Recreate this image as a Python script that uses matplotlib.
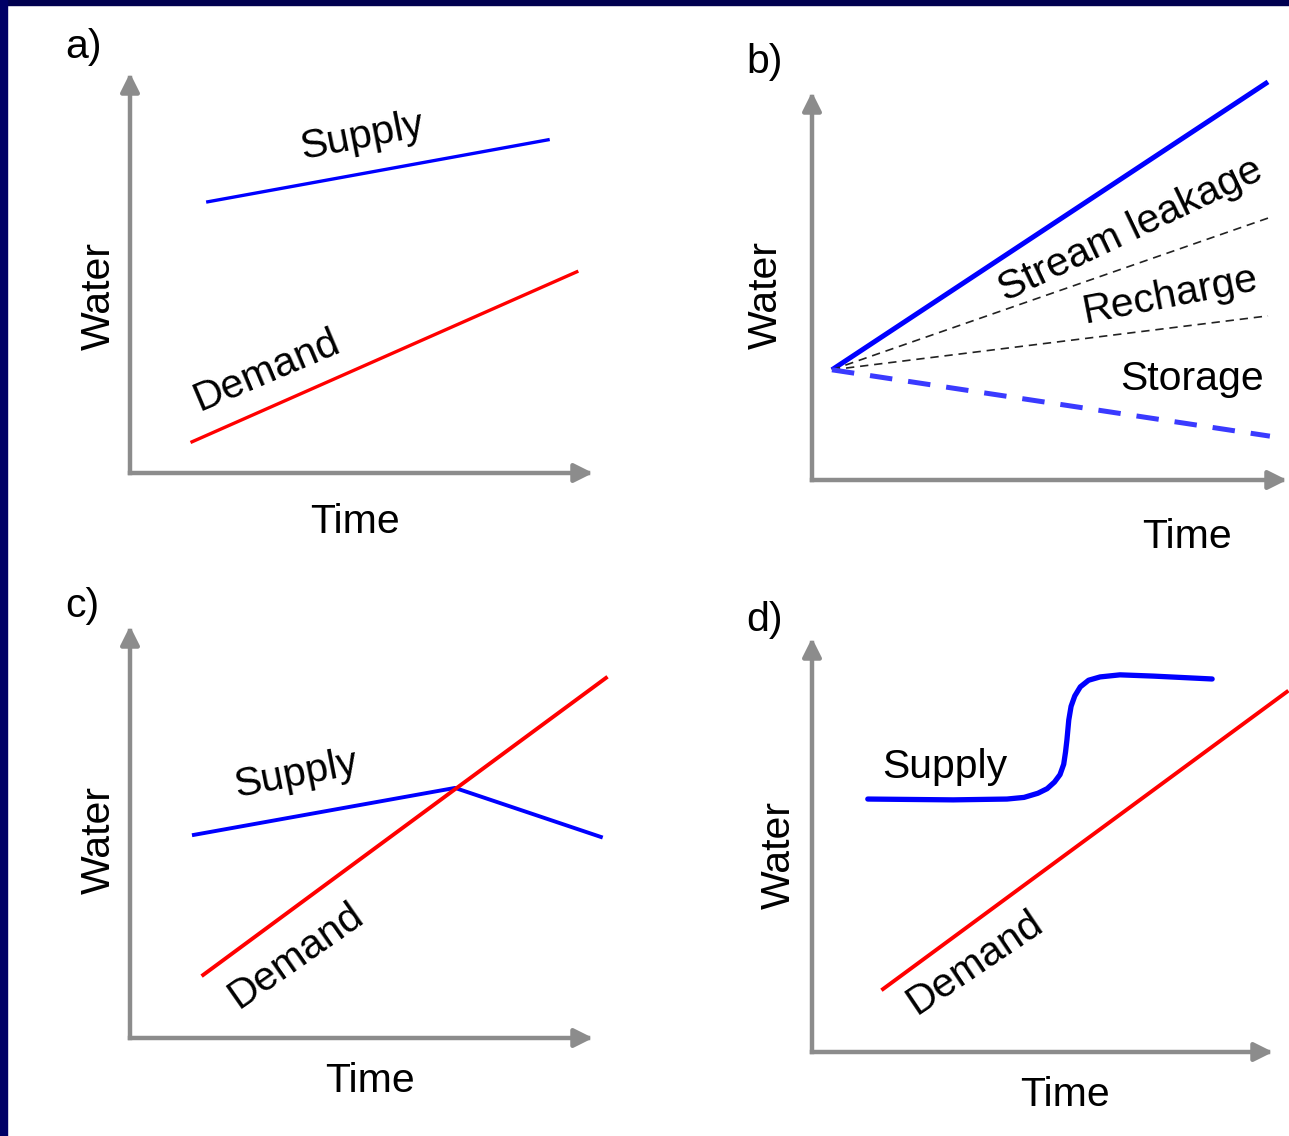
import matplotlib.pyplot as plt
from matplotlib.patches import Rectangle

W_PX, H_PX = 1289, 1136

# ---- data (time / water in arbitrary 0-10 units) ----
# a) supply stays above demand
a_supply_t = [1.68, 9.03]
a_supply_w = [6.78, 8.33]
a_demand_t = [1.34, 9.65]
a_demand_w = [0.78, 5.03]

# b) partition of pumping
b_pump_t = [0.42, 9.60]
b_pump_w = [2.84, 10.26]
b_leak_t = [0.42, 9.60]
b_leak_w = [2.84, 6.75]
b_rech_t = [0.42, 9.60]
b_rech_w = [2.84, 4.23]
b_stor_t = [0.42, 9.64]
b_stor_w = [2.84, 1.13]

# c) demand overtakes supply
c_supply_t = [1.38, 7.02, 10.17]
c_supply_w = [4.93, 6.07, 4.88]
c_demand_t = [1.58, 10.28]
c_demand_w = [1.53, 8.74]

# d) supply step increase
d_supply_t = [1.21, 3.06, 4.23, 4.60, 4.90, 5.10, 5.26, 5.38, 5.46, 5.50, 5.53, 5.57,
              5.62, 5.70, 5.82, 6.00, 6.25, 6.68, 7.40, 8.68]
d_supply_w = [6.11, 6.09, 6.11, 6.15, 6.25, 6.36, 6.52, 6.70, 6.95, 7.25, 7.54, 8.02,
              8.35, 8.60, 8.82, 8.98, 9.06, 9.11, 9.08, 9.01]
d_demand_t = [1.54, 10.30]
d_demand_w = [1.52, 8.70]

GREY = '#8c8c8c'
BLUE = '#0000ff'
RED = '#ff0000'
FONT = 'Liberation Sans'
FS = 29.5

plt.rcParams['font.family'] = [FONT, 'DejaVu Sans']

fig = plt.figure(figsize=(W_PX / 100, H_PX / 100), dpi=100)
fig.patch.set_facecolor('white')

# dark frame on top and left
fig.patches.append(Rectangle((0, 1 - 5 / H_PX), 1, 5 / H_PX, transform=fig.transFigure,
                             color='#000050', zorder=10))
fig.patches.append(Rectangle((0, 0), 7 / W_PX, 1, transform=fig.transFigure,
                             color='#000066', zorder=10))


def px(x, y):
    return x / W_PX, 1 - y / H_PX


def panel(x0, y0, xt, yt):
    ax = fig.add_axes([x0 / W_PX, 1 - y0 / H_PX, (xt - x0) / W_PX, (y0 - yt) / H_PX])
    ax.set_xlim(0, 10)
    ax.set_ylim(0, 10)
    ax.axis('off')
    arrow = dict(arrowstyle='-|>,head_length=0.8,head_width=0.4', mutation_scale=14,
                 lw=3.2, color=GREY, shrinkA=0, shrinkB=0, capstyle='projecting')
    ax.annotate('', xy=(1, 0), xytext=(0, 0), xycoords='axes fraction',
                textcoords='axes fraction', arrowprops=arrow)
    ax.annotate('', xy=(0, 1), xytext=(0, 0), xycoords='axes fraction',
                textcoords='axes fraction', arrowprops=arrow)
    return ax


def label(x, y, s, rot=0, va='center', ha='center'):
    fig.text(*px(x, y), s, fontsize=FS, family=FONT, rotation=rot,
             rotation_mode='anchor', ha=ha, va=va)


# a)
ax = panel(130, 473, 593, 73)
ax.plot(a_supply_t, a_supply_w, color=BLUE, lw=2.4, clip_on=False)
ax.plot(a_demand_t, a_demand_w, color=RED, lw=2.4, clip_on=False)
label(65, 58, 'a)', ha='left', va='baseline')
label(110, 296, 'Water', rot=90, va='baseline')
label(355, 533, 'Time', va='baseline')
label(362, 136, 'Supply', rot=11)
label(267, 371, 'Demand', rot=23)

# b)
ax = panel(812, 480, 1287, 92)
ax.plot(b_pump_t, b_pump_w, color=BLUE, lw=3.6, clip_on=False, solid_capstyle='butt')
ax.plot(b_leak_t, b_leak_w, color='#222222', lw=1.2, dashes=(5, 3.5), clip_on=False)
ax.plot(b_rech_t, b_rech_w, color='#222222', lw=1.2, dashes=(5, 3.5), clip_on=False)
ax.plot(b_stor_t, b_stor_w, color='#3a3aff', lw=3.6, dashes=(4.5, 3.2), clip_on=False)
label(746, 73, 'b)', ha='left', va='baseline')
label(777, 295, 'Water', rot=90, va='baseline')
label(1187, 548, 'Time', va='baseline')
label(1131, 230, 'Stream leakage', rot=25.5)
label(1170, 295, 'Recharge', rot=11)
label(1192, 390, 'Storage', va='baseline')

# c)
ax = panel(130, 1038, 593, 626)
ax.plot(c_supply_t, c_supply_w, color=BLUE, lw=2.8, clip_on=False)
ax.plot(c_demand_t, c_demand_w, color=RED, lw=2.8, clip_on=False)
label(65, 617, 'c)', ha='left', va='baseline')
label(110, 840, 'Water', rot=90, va='baseline')
label(370, 1092, 'Time', va='baseline')
label(296, 774, 'Supply', rot=11)
label(296, 955, 'Demand', rot=35)

# d)
ax = panel(812, 1052, 1273, 638)
ax.plot(d_supply_t, d_supply_w, color=BLUE, lw=3.8, clip_on=False,
        solid_joinstyle='round', solid_capstyle='round')
ax.plot(d_demand_t, d_demand_w, color=RED, lw=2.8, clip_on=False)
label(746, 631, 'd)', ha='left', va='baseline')
label(790, 855, 'Water', rot=90, va='baseline')
label(1065, 1106, 'Time', va='baseline')
label(945, 778, 'Supply', va='baseline')
label(975, 962, 'Demand', rot=34)

fig.savefig('out.png', dpi=100)
